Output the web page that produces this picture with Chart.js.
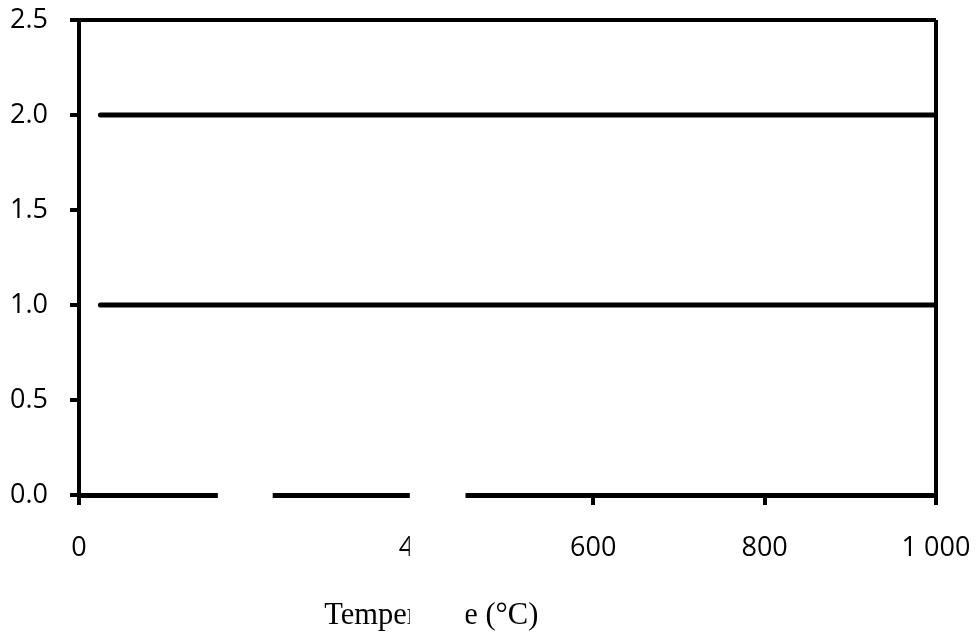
<!DOCTYPE html>
<html>
<head>
<meta charset="utf-8">
<script src="https://cdn.jsdelivr.net/npm/chart.js@4.4.1/dist/chart.umd.min.js"></script>
<style>
    body { margin: 0; background: #ffffff; }
    canvas { display: block; }
</style>
</head>
<body>
<canvas id="grafico" width="977" height="634"></canvas>
<script>
const temperaturas = [25, 1000];
const serieAlta = [2.0, 2.0];
const serieBaja = [1.0, 1.0];
const ticksX = [0, 200, 400, 600, 800, 1000];
const ticksY = [0, 0.5, 1.0, 1.5, 2.0, 2.5];
const tituloX = 'Temperature (°C)';

const ctx = document.getElementById('grafico').getContext('2d');

function puntos(valores) {
    return temperaturas.map((t, i) => ({ x: t, y: valores[i] }));
}

function formatoMiles(v) {
    return String(v).replace(/\B(?=(\d{3})+(?!\d))/g, ' ');
}

// quita el relleno automatico de las escalas, el margen lo pone layout.padding
function sinRelleno(scale) {
    scale.paddingTop = 0;
    scale.paddingBottom = 0;
    scale.paddingLeft = 0;
    scale.paddingRight = 0;
}

// titulo del eje x, algo corrido a la izquierda como en el original
const tituloPlugin = {
    id: 'tituloPlugin',
    afterDraw(chart) {
        const c = chart.ctx;
        const x = chart.scales.x.getPixelForValue(411);
        c.save();
        c.fillStyle = '#000000';
        c.font = '30.5px "Liberation Serif"';
        c.textAlign = 'center';
        c.textBaseline = 'alphabetic';
        c.fillText(tituloX, x, chart.chartArea.bottom + 129);
        c.restore();
    }
};

// recuadros blancos que tapan partes del eje
const tapas = [[162, 226], [386, 451]];
const tapasPlugin = {
    id: 'tapasPlugin',
    afterDraw(chart) {
        const c = chart.ctx;
        const xs = chart.scales.x;
        c.save();
        c.fillStyle = '#ffffff';
        tapas.forEach(([a, b]) => {
            const x0 = xs.getPixelForValue(a);
            const x1 = xs.getPixelForValue(b);
            c.fillRect(x0, chart.chartArea.bottom - 8, x1 - x0, chart.height);
        });
        c.restore();
    }
};

new Chart(ctx, {
    type: 'line',
    data: {
        datasets: [{
            data: puntos(serieAlta),
            borderColor: '#000000',
            borderWidth: 5,
            borderCapStyle: 'round',
            pointRadius: 0
        }, {
            data: puntos(serieBaja),
            borderColor: '#000000',
            borderWidth: 5,
            borderCapStyle: 'round',
            pointRadius: 0
        }]
    },
    options: {
        responsive: false,
        animation: false,
        layout: {
            padding: { top: 20, right: 41, left: 0, bottom: 0 }
        },
        plugins: {
            legend: { display: false },
            tooltip: { enabled: false }
        },
        scales: {
            x: {
                type: 'linear',
                min: 0,
                max: 1000,
                afterBuildTicks: (scale) => {
                    scale.ticks = ticksX.map(v => ({ value: v }));
                },
                afterFit: (scale) => {
                    scale.height = 139;
                    sinRelleno(scale);
                },
                border: { display: true, color: '#000000', width: 5 },
                grid: {
                    color: (c) => c.tick && c.tick.value === 1000 ? '#000000' : 'rgba(0,0,0,0)',
                    tickColor: '#000000',
                    lineWidth: 4,
                    tickLength: 10,
                    drawTicks: true
                },
                ticks: {
                    color: '#000000',
                    padding: 27,
                    maxRotation: 0,
                    font: { family: '"Open Sans"', size: 27 },
                    callback: (v) => formatoMiles(v)
                }
            },
            y: {
                min: 0,
                max: 2.5,
                afterBuildTicks: (scale) => {
                    scale.ticks = ticksY.map(v => ({ value: v }));
                },
                afterFit: (scale) => {
                    scale.width = 79;
                    sinRelleno(scale);
                },
                border: { display: true, color: '#000000', width: 4 },
                grid: {
                    color: (c) => c.tick && c.tick.value === 2.5 ? '#000000' : 'rgba(0,0,0,0)',
                    tickColor: '#000000',
                    lineWidth: 4,
                    tickLength: 9
                },
                ticks: {
                    color: '#000000',
                    padding: 22,
                    font: { family: '"Open Sans"', size: 27 },
                    callback: (v) => v.toFixed(1)
                }
            }
        }
    },
    plugins: [tituloPlugin, tapasPlugin]
});
</script>
</body>
</html>
